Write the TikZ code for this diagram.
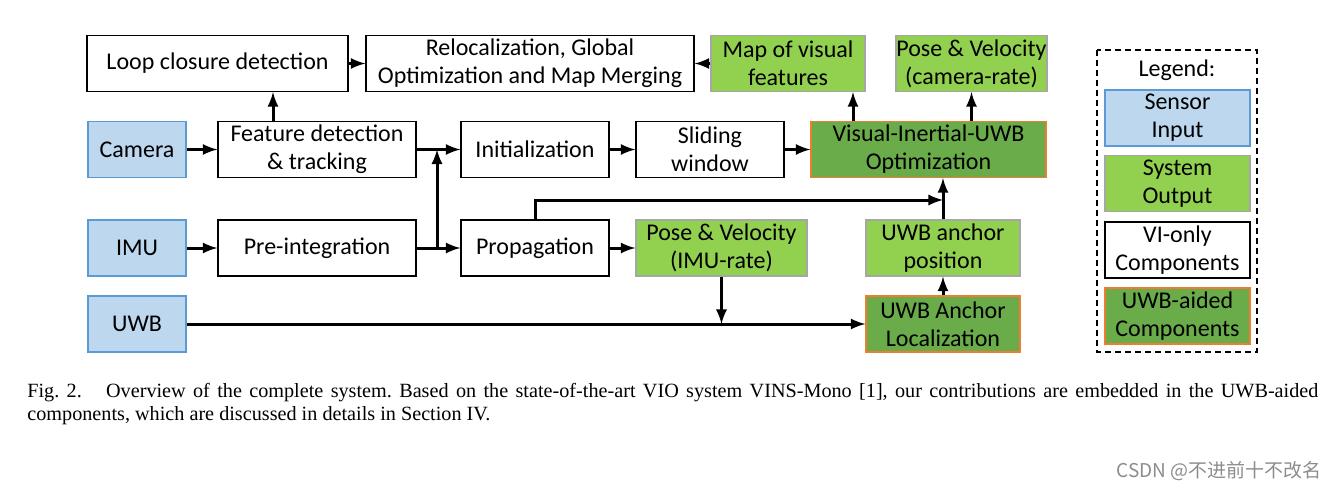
\documentclass[tikz,border=0pt]{standalone}
\usepackage{fontspec}
\setmainfont{Carlito}
\newfontfamily\capfont{Liberation Serif}
\newfontfamily\cjkfont{Noto Sans CJK SC}
\usetikzlibrary{positioning}
\definecolor{sensorfill}{HTML}{BDD7EE}
\definecolor{sensordraw}{HTML}{5B9BD5}
\definecolor{outfill}{HTML}{92D050}
\definecolor{outdraw}{HTML}{A6A6A6}
\definecolor{uwbfill}{HTML}{6AAB4A}
\definecolor{uwbdraw}{HTML}{ED7D31}
\tikzset{
  blk/.style={inner sep=0pt, minimum height=28pt, align=center,
    font=\fontsize{12}{14}\selectfont, line width=0.6pt},
  sensor/.style={blk, fill=sensorfill, draw=sensordraw},
  output/.style={blk, fill=outfill, draw=outdraw},
  vionly/.style={blk, fill=white, draw=black},
  uwbaided/.style={blk, fill=uwbfill, draw=uwbdraw},
  flow/.style={->, >=latex, line width=1.5pt},
}
\begin{document}
\frenchspacing
\begin{tikzpicture}[x=0.5pt, y=-0.5pt]
                    \useasboundingbox (0,0) rectangle (1335,493);

                    % top row
                    \node[vionly, minimum width=130.5pt] (loop)    at (217.5,63.5) {Loop closure detection};
                    \node[vionly, minimum width=164pt]   (reloc)   at (530,63.5)   {Relocalization, Global\\Optimization and Map Merging};
                    \node[output, minimum width=77pt]    (mapvis)  at (788,63.5)   {Map of visual\\features};
                    \node[output, minimum width=75.5pt]  (posecam) at (971.5,63.5) {Pose \& Velocity\\(camera-rate)};

                    % camera row
                    \node[sensor, minimum width=49pt]    (camera)  at (137,149.5)  {Camera};
                    \node[vionly, minimum width=99pt]    (feat)    at (317,149.5)  {Feature detection\\\& tracking};
                    \node[vionly, minimum width=74pt]    (init)    at (535,149.5)  {Initialization};
                    \node[vionly, minimum width=74pt]    (slide)   at (710,149.5)  {Sliding\\window};
                    \node[uwbaided, minimum width=117.5pt] (viuopt) at (928.5,149.5) {Visual-Inertial-UWB\\Optimization};

                    % imu row
                    \node[sensor, minimum width=49pt]    (imu)     at (137,248)    {IMU};
                    \node[vionly, minimum width=99pt]    (preint)  at (317,248)    {Pre-integration};
                    \node[vionly, minimum width=74pt]    (prop)    at (535,248)    {Propagation};
                    \node[output, minimum width=85.5pt]  (poseimu) at (721.5,248)  {Pose \& Velocity\\(IMU-rate)};
                    \node[output, minimum width=77pt]    (anchorpos) at (943,248)  {UWB anchor\\position};

                    % uwb row
                    \node[sensor, minimum width=49pt]    (uwb)     at (137,324)    {UWB};
                    \node[uwbaided, minimum width=77pt]  (anchorloc) at (943,324)  {UWB Anchor\\Localization};

                    % legend
                    \draw[dash pattern=on 3pt off 2pt, line width=0.6pt] (1097,50) rectangle (1257,352);
                    \node[font=\fontsize{12}{14}\selectfont] (legtitle) at (1177,70) {Legend:};
                    \node[sensor, minimum width=72.5pt]   (legsensor) at (1177.5,118)   {Sensor\\Input};
                    \node[output, minimum width=72.5pt]   (legout)    at (1177.5,183.5) {System\\Output};
                    \node[vionly, minimum width=72.5pt]   (legvi)     at (1177.5,250)   {VI-only\\Components};
                    \node[uwbaided, minimum width=72.5pt] (leguwb)    at (1177.5,316)   {UWB-aided\\Components};

                    % junctions
                    \coordinate (jpre) at (437,248);
                    \coordinate (jfeat) at (437,149.5);
                    \coordinate (jprop) at (943,200);
                    \coordinate (juwb) at (poseimu.south |- uwb);

                    \draw[flow] (camera) -- (feat);
                    \draw[flow] (feat) -- (init);
                    \draw[flow] (init) -- (slide);
                    \draw[flow] (slide) -- (viuopt);
                    \draw[flow] (feat.north -| loop.south) ++(55.5,0) coordinate (fup) -- (fup |- loop.south);
                    \draw[flow] (loop) -- (reloc);
                    \draw[flow] (mapvis) -- (reloc);
                    \draw[flow] (viuopt.north -| mapvis.south) ++(65,0) coordinate (oup) -- (oup |- mapvis.south);
                    \draw[flow] (viuopt.north -| posecam) -- (posecam);

                    \draw[flow] (imu) -- (preint);
                    \draw[flow] (preint) -- (prop);
                    \draw[flow] (jpre) -- (jfeat);
                    \draw[flow] (prop) -- (poseimu);
                    \draw[flow] (prop.north) |- (jprop);
                    \draw[flow] (anchorpos) -- (viuopt.south -| anchorpos);

                    \draw[flow] (uwb) -- (anchorloc);
                    \draw[flow] (poseimu) -- (juwb);
                    \draw[flow] (anchorloc) -- (anchorpos);

                    % caption and mark
                    \node[anchor=base west, inner sep=0pt, font=\capfont\fontsize{10.1}{12}\selectfont] (cap1) at (27,397)
                      {\makebox[645.5pt][s]{Fig.~2.\hspace{1.2em}Overview of the complete system. Based on the state-of-the-art VIO system VINS-Mono [1], our contributions are embedded in the UWB-aided}};
                    \node[anchor=base west, inner sep=0pt, font=\capfont\fontsize{10.1}{12}\selectfont] (cap2) at (27,420)
                      {components, which are discussed in details in Section IV.};
                    \node[anchor=east, inner sep=0pt, text=black!45, font=\cjkfont\fontsize{9.5}{11}\selectfont] (mark) at (1322,471)
                      {CSDN @不进前十不改名};
                \end{tikzpicture}
\end{document}
